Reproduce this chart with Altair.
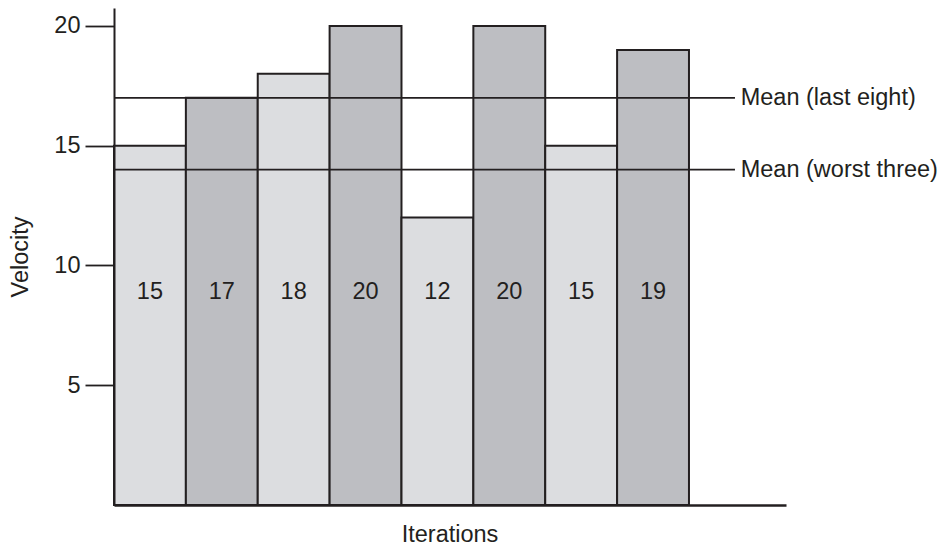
import altair as alt
import pandas as pd

iterations = [1, 2, 3, 4, 5, 6, 7, 8]
velocity = [15, 17, 18, 20, 12, 20, 15, 19]
shade = ["light", "dark", "light", "dark", "light", "dark", "light", "dark"]
mean_names = ["Mean (last eight)", "Mean (worst three)"]
mean_values = [17, 14]
y_ticks = [5, 10, 15, 20]

FONT = "Liberation Sans"
FS = 23.5
INK = "#231f20"

bars_df = pd.DataFrame({
    "start": [i - 1 for i in iterations],
    "end": iterations,
    "v": velocity,
    "shade": shade,
    "mid": [i - 0.5 for i in iterations],
    "labely": [8.9] * len(iterations),
})
means_df = pd.DataFrame({"name": mean_names, "v": mean_values, "x0": [0] * 2, "x1": [8.64] * 2, "xt": [8.72] * 2})

X_DOM = [0, 9.35]
Y_DOM = [0, 20.75]

xs = alt.Scale(domain=X_DOM, nice=False, zero=False)
ys = alt.Scale(domain=Y_DOM, nice=False, zero=False)

base = alt.Chart(bars_df)

bars = base.mark_rect(stroke=INK, strokeWidth=2).encode(
    x=alt.X("start:Q", scale=xs, axis=alt.Axis(domainColor=INK, domainWidth=2.5, ticks=False, labels=False,
                                               grid=False, title=None, zindex=1)),
    x2="end:Q",
    y=alt.Y("v:Q", scale=ys, axis=alt.Axis(values=y_ticks, tickSize=29, tickColor=INK, tickWidth=1.8,
                                           domainColor=INK, domainWidth=2, labelFont=FONT, labelFontSize=FS,
                                           labelColor=INK, labelPadding=5, grid=False, title=None, zindex=1)),
    y2=alt.datum(0),
    fill=alt.Fill("shade:N", scale=alt.Scale(domain=["light", "dark"], range=["#dcdde0", "#bdbec2"]), legend=None),
)

bar_labels = base.mark_text(font=FONT, fontSize=FS, color=INK, baseline="middle").encode(
    x=alt.X("mid:Q", scale=xs), y=alt.Y("labely:Q", scale=ys), text="v:Q"
)

mbase = alt.Chart(means_df)
mean_rules = mbase.mark_rule(color=INK, strokeWidth=1.8).encode(
    x=alt.X("x0:Q", scale=xs), x2="x1:Q", y=alt.Y("v:Q", scale=ys)
)
mean_text = mbase.mark_text(font=FONT, fontSize=FS, color=INK, align="left", baseline="middle").encode(
    x=alt.X("xt:Q", scale=xs), y=alt.Y("v:Q", scale=ys), text="name:N"
)

x_title = alt.Chart(pd.DataFrame({"t": ["Iterations"]})).mark_text(
    font=FONT, fontSize=FS, color=INK, align="center", baseline="alphabetic"
).encode(x=alt.value(336), y=alt.value(534), text="t:N")
y_title = alt.Chart(pd.DataFrame({"t": ["Velocity"]})).mark_text(
    font=FONT, fontSize=FS, color=INK, align="center", baseline="middle", angle=270
).encode(x=alt.value(-93), y=alt.value(249), text="t:N")

chart = alt.layer(bars, mean_rules, bar_labels, mean_text, x_title, y_title).properties(
    width=672, height=497,
    autosize=alt.AutoSizeParams(type="none"),
    padding={"left": 106, "top": 0, "right": 158, "bottom": 44},
    view=alt.ViewBackground(stroke="transparent", strokeWidth=0),
).configure_view(stroke="transparent", strokeWidth=0).configure(background="white")

chart.save("out.html", embed_options={"renderer": "svg", "actions": False})
